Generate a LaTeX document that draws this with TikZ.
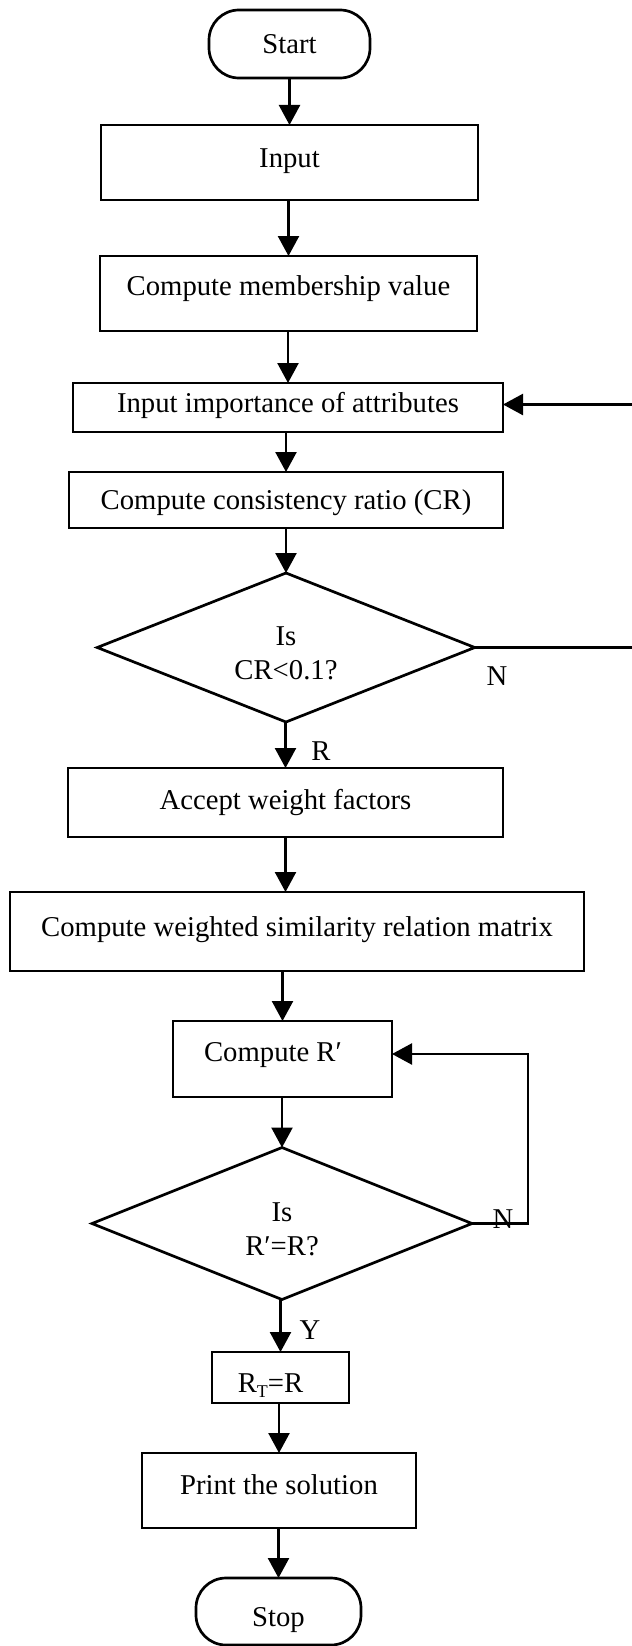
\documentclass[tikz,border=0pt]{standalone}
\usepackage{fontspec}
\setmainfont{Liberation Serif}
\usetikzlibrary{shapes.geometric,arrows.meta}
\begin{document}
\begin{tikzpicture}[x=1bp,y=-1bp,
  base/.style={line width=2.7bp, inner sep=0pt, outer sep=0pt, font=\fontsize{28.8}{34}\selectfont},
  box/.style={base, draw, rectangle, text height=19bp, text depth=0bp},
  term/.style={box, rounded corners=30bp},
  decision/.style={base, draw, diamond, aspect=2.5},
  qtext/.style={base, align=center, yshift=-6bp},
  lbl/.style={base, text height=19bp, text depth=0bp},
  arr/.style={line width=2.4bp, -{Triangle[length=20bp,width=21bp]}},
  link/.style={line width=2.4bp}]
\useasboundingbox (0,0) rectangle (632,1646);
\fill[white] (0,0) rectangle (632,1646);

% main column
\node[term, minimum width=161bp, minimum height=68bp] (start) at (289.5,44) {Start};
\node[box, minimum width=377bp, minimum height=75bp, text depth=10bp] (input) at (289.5,162.5) {Input};
\node[box, minimum width=377bp, minimum height=75bp, text depth=16bp] (member) at (288.5,293.5) {Compute membership value};
\node[box, minimum width=430bp, minimum height=49bp, text depth=10bp] (imp) at (288,407.5) {Input importance of attributes};
\node[box, minimum width=434bp, minimum height=56bp] (cons) at (286,500) {Compute consistency ratio (CR)};
\node[decision, minimum width=377.5bp, minimum height=149bp,
      label={[qtext]center:{Is\\CR<0.1?}}] (dec1) at (286,647.5) {};
\node[box, minimum width=435bp, minimum height=69bp, text depth=6bp] (accept) at (285.5,802.5) {Accept weight factors};
\node[box, minimum width=574bp, minimum height=79bp, text depth=10bp] (wsim) at (297,931.5) {Compute weighted similarity relation matrix};
\node[box, minimum width=219bp, minimum height=76bp, text depth=14bp] (rprime) at (282.5,1059) {Compute R′\hspace*{19bp}};
\node[decision, minimum width=380bp, minimum height=152bp,
      label={[qtext]center:{Is\\R′=R?}}] (dec2) at (282,1223.5) {};
\node[box, minimum width=137bp, minimum height=51bp, text height=29bp] (rt) at (280.5,1377.5) {R\raisebox{-0.2em}{\fontsize{18}{18}\selectfont T}=R\hspace*{20bp}};
\node[box, minimum width=274bp, minimum height=75bp, text depth=12bp] (print) at (279,1490.5) {Print the solution};
\node[term, minimum width=165bp, minimum height=67bp, text height=29bp] (stop) at (278.5,1611.5) {Stop};

% downward flow
\draw[arr] (input.north |- start.south) -- (input.north);
\draw[arr] (member.north |- input.south) -- (member.north);
\draw[arr] (imp.north |- member.south) -- (imp.north);
\draw[arr] (cons.north |- imp.south) -- (cons.north);
\draw[arr] (dec1.north |- cons.south) -- (dec1.north);
\draw[arr] (accept.north |- dec1.south) -- (accept.north);
\draw[arr] (accept.south) -- (accept.south |- wsim.north);
\draw[arr] (rprime.north |- wsim.south) -- (rprime.north);
\draw[arr] (dec2.north |- rprime.south) -- (dec2.north);
\draw[arr] (rt.north |- dec2.south) -- (rt.north);
\draw[arr] (print.north |- rt.south) -- (print.north);
\draw[arr] (stop.north |- print.south) -- (stop.north);

% feedback paths
\coordinate (edge) at (632,0);
\draw[link] (dec1.east) -- (dec1.east -| edge);
\draw[arr] ([yshift=3bp]imp.east -| edge) -- ([yshift=3bp]imp.east);
\draw[arr] (dec2.east) -- ++(56,0) |- ([yshift=5bp]rprime.east);

% branch labels
\node[lbl] (n1) at (497,676) {N};
\node[lbl] (r1) at (321,751) {R};
\node[lbl] (n2) at (503,1219) {N};
\node[lbl] (y2) at (310,1330) {Y};
\end{tikzpicture}
\end{document}
